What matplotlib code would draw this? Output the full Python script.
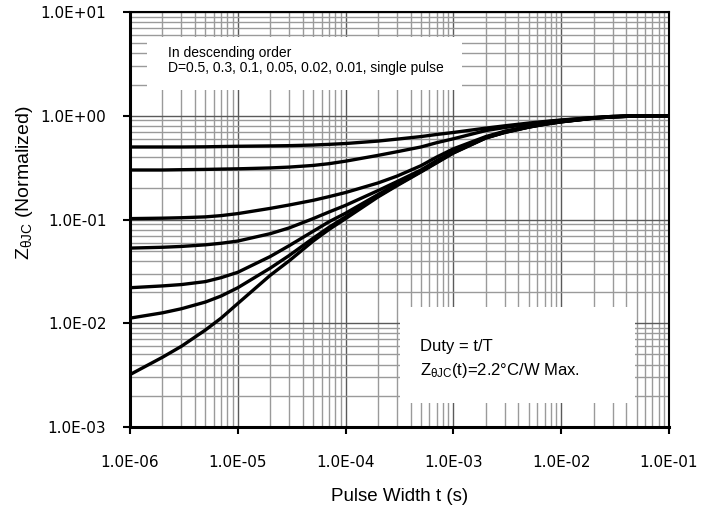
import numpy as np
import matplotlib
matplotlib.use("Agg")
import matplotlib.pyplot as plt
from matplotlib.patches import Rectangle
from matplotlib.ticker import LogLocator, FixedLocator, FuncFormatter, NullFormatter

# pulse width (s)
pulse_width = [1e-6, 2e-6, 3e-6, 5e-6, 7e-6,
               1e-5, 2e-5, 3e-5, 5e-5, 7e-5,
               1e-4, 2e-4, 3e-4, 5e-4, 7e-4,
               1e-3, 2e-3, 3e-3, 5e-3, 7e-3,
               1e-2, 2e-2, 3e-2, 5e-2, 7e-2,
               1e-1]

# normalized Zthjc
z_d050 = [0.500, 0.500, 0.500, 0.502, 0.505,
          0.508, 0.512, 0.515, 0.522, 0.530,
          0.540, 0.570, 0.595, 0.630, 0.660,
          0.690, 0.760, 0.800, 0.850, 0.880,
          0.910, 0.960, 0.985, 1.0, 1.0,
          1.0]
z_d030 = [0.300, 0.300, 0.302, 0.304, 0.306,
          0.308, 0.314, 0.320, 0.332, 0.345,
          0.365, 0.415, 0.450, 0.500, 0.550,
          0.600, 0.720, 0.770, 0.830, 0.870,
          0.905, 0.960, 0.985, 1.0, 1.0,
          1.0]
z_d010 = [0.102, 0.103, 0.104, 0.106, 0.109,
          0.114, 0.128, 0.138, 0.153, 0.166,
          0.182, 0.225, 0.262, 0.330, 0.400,
          0.480, 0.630, 0.710, 0.790, 0.840,
          0.885, 0.955, 0.980, 1.0, 1.0,
          1.0]
z_d005 = [0.053, 0.054, 0.055, 0.057, 0.059,
          0.062, 0.073, 0.083, 0.102, 0.118,
          0.137, 0.190, 0.232, 0.300, 0.370,
          0.450, 0.620, 0.700, 0.785, 0.835,
          0.880, 0.950, 0.975, 0.995, 1.0,
          1.0]
z_d002 = [0.0220, 0.0229, 0.0236, 0.0252, 0.0275,
          0.0310, 0.0440, 0.0560, 0.0770, 0.0950,
          0.115, 0.174, 0.220, 0.295, 0.360,
          0.445, 0.615, 0.695, 0.780, 0.830,
          0.875, 0.950, 0.975, 0.995, 1.0,
          1.0]
z_d001 = [0.0112, 0.0126, 0.0138, 0.0160, 0.0183,
          0.0220, 0.0340, 0.0450, 0.0660, 0.0840,
          0.106, 0.168, 0.215, 0.290, 0.355,
          0.440, 0.612, 0.692, 0.778, 0.828,
          0.875, 0.948, 0.975, 0.995, 1.0,
          1.0]
z_single = [0.0032, 0.0047, 0.0060, 0.0086, 0.0112,
            0.0155, 0.0290, 0.0400, 0.0620, 0.0800,
            0.102, 0.165, 0.212, 0.287, 0.352,
            0.437, 0.610, 0.690, 0.776, 0.826,
            0.873, 0.947, 0.975, 0.995, 1.0,
            1.0]

curves = [z_d050, z_d030, z_d010, z_d005, z_d002, z_d001, z_single]

x_ticks = [1e-6, 1e-5, 1e-4, 1e-3, 1e-2, 1e-1]
y_ticks = [1e-3, 1e-2, 1e-1, 1e0, 1e1]

plt.rcParams["font.family"] = ["Liberation Sans", "DejaVu Sans"]
plt.rcParams["mathtext.fontset"] = "custom"
plt.rcParams["mathtext.rm"] = "Liberation Sans"
plt.rcParams["mathtext.it"] = "Liberation Sans"

fig = plt.figure(figsize=(7.18, 5.22), dpi=100)
ax = fig.add_axes([130 / 718, 95 / 522, 539 / 718, 415 / 522])

ax.set_xscale("log")
ax.set_yscale("log")
ax.set_xlim(1e-6, 1e-1)
ax.set_ylim(1e-3, 1e1)

# grid
ax.xaxis.set_major_locator(FixedLocator(x_ticks))
ax.yaxis.set_major_locator(FixedLocator(y_ticks))
ax.xaxis.set_minor_locator(LogLocator(base=10, subs=np.arange(2, 10)))
ax.yaxis.set_minor_locator(LogLocator(base=10, subs=np.arange(2, 10)))
ax.xaxis.set_minor_formatter(NullFormatter())
ax.yaxis.set_minor_formatter(NullFormatter())
ax.grid(which="minor", color="#9a9a9a", linewidth=1.0)
ax.grid(which="major", color="#5a5a5a", linewidth=1.0)
ax.set_axisbelow(True)

for z in curves:
    ax.plot(pulse_width, z, color="black", linewidth=2.4,
            solid_joinstyle="round", zorder=3)

fmt = FuncFormatter(lambda v, p: f"{v:.1E}")
ax.xaxis.set_major_formatter(fmt)
ax.yaxis.set_major_formatter(fmt)
ax.tick_params(which="minor", length=0)
ax.tick_params(which="major", direction="out", length=5, width=1.5, labelsize=11)
ax.tick_params(axis="x", pad=15)
ax.tick_params(axis="y", pad=12)
for lbl in ax.get_xticklabels() + ax.get_yticklabels():
    lbl.set_family("DejaVu Sans")

for side in ["left", "bottom"]:
    ax.spines[side].set_linewidth(2.2)
for side in ["top", "right"]:
    ax.spines[side].set_linewidth(1.5)

ax.set_xlabel("Pulse Width t (s)", fontsize=13.5, labelpad=13)
fig.text(25 / 718, 1 - 183 / 522, r"Z$_{\mathrm{\theta JC}}$ (Normalized)",
         rotation=90, fontsize=14, ha="center", va="center")

# annotation boxes (white patches hiding the grid)
ax.add_patch(Rectangle((0.0315, 0.812), 0.585, 0.128, transform=ax.transAxes,
                       facecolor="white", edgecolor="none", zorder=4))
ax.text(0.0705, 0.901, "In descending order", transform=ax.transAxes,
        fontsize=10, va="center", ha="left", zorder=5)
ax.text(0.0705, 0.865, "D=0.5, 0.3, 0.1, 0.05, 0.02, 0.01, single pulse",
        transform=ax.transAxes, fontsize=10, va="center", ha="left", zorder=5)

ax.add_patch(Rectangle((0.501, 0.058), 0.436, 0.231, transform=ax.transAxes,
                       facecolor="white", edgecolor="none", zorder=4))
ax.text(0.538, 0.193, "Duty = t/T", transform=ax.transAxes,
        fontsize=12, va="center", ha="left", zorder=5)
ax.text(0.538, 0.135, r"Z$_{\mathrm{\theta JC}}$(t)=2.2°C/W Max.",
        transform=ax.transAxes, fontsize=12, va="center", ha="left", zorder=5)

fig.savefig("out.png", dpi=100)
